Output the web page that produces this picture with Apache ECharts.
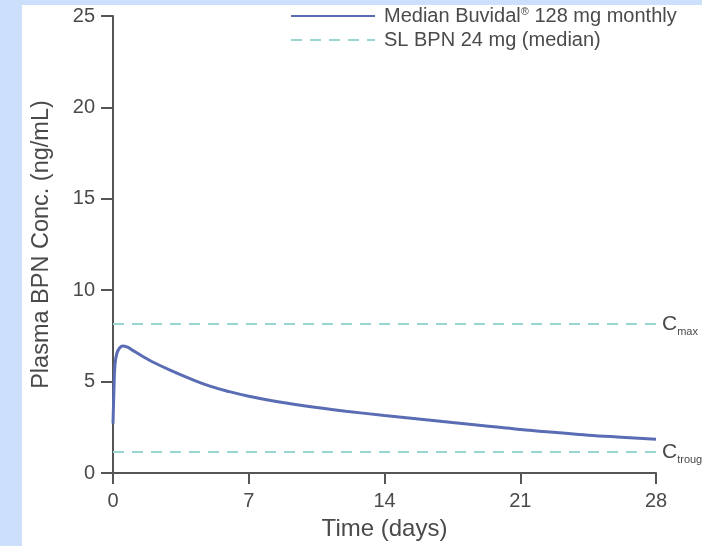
<!DOCTYPE html>
<html>
<head>
<meta charset="utf-8">
<script src="https://cdn.jsdelivr.net/npm/echarts@6/dist/echarts.min.js"></script>
<style>
  html, body { margin: 0; padding: 0; background: #cce0fc; }
  #chart { width: 702px; height: 546px; }
</style>
</head>
<body>
<div id="chart"></div>
<script>
// Time after dose (days) and median plasma buprenorphine concentration (ng/mL)
const timeDays = [0, 0.05, 0.1, 0.2, 0.35, 0.5, 0.75, 1, 1.5, 2, 3, 4, 5, 6, 7, 8.5, 10.5, 12, 14, 16, 17.5, 19, 21, 23, 24.5, 26, 28];
const buvidalConc = [2.7, 4.6, 5.9, 6.55, 6.85, 6.95, 6.88, 6.72, 6.4, 6.1, 5.6, 5.15, 4.75, 4.45, 4.2, 3.9, 3.58, 3.38, 3.15, 2.93, 2.76, 2.6, 2.38, 2.2, 2.07, 1.97, 1.85];

// Sublingual reference levels (ng/mL)
const slCmax = 8.15;
const slCtrough = 1.15;

// Axis ticks
const xTicks = [0, 7, 14, 21, 28];
const yTicks = [0, 5, 10, 15, 20, 25];

const seriesNames = ['Median Buvidal\u00AE 128 mg monthly', 'SL BPN 24 mg (median)'];

const BLUE = '#5a6db4';
const TEAL = '#9ad6d0';
const AXIS = '#555555';
const TEXT = '#4a4a4a';
const FONT = '"Liberation Sans", Arial, sans-serif';

const chart = echarts.init(document.getElementById('chart'), null, { renderer: 'canvas' });

const refLabel = (sub) => ({
  show: true,
  position: 'end',
  distance: 6,
  formatter: '{c|C}{s|' + sub + '}',
  rich: {
    c: { fontSize: 21, color: TEXT, fontFamily: FONT },
    s: { fontSize: 11, color: TEXT, fontFamily: FONT, padding: [16, 0, 0, 0] }
  }
});

chart.setOption({
  backgroundColor: '#cce0fc',
  animation: false,
  graphic: [{
    type: 'rect',
    z: -100,
    silent: true,
    shape: { x: 22, y: 5, width: 700, height: 560 },
    style: { fill: '#ffffff' }
  }],
  textStyle: { fontFamily: FONT },
  grid: { left: 113, right: 46, top: 16, bottom: 71, containLabel: false },
  legend: {
    orient: 'vertical',
    left: 285,
    top: 1,
    itemWidth: 84,
    itemHeight: 14,
    itemGap: 4,
    data: seriesNames,
    itemStyle: { opacity: 0 },
    formatter: name => name.replace('\u00AE', '{sup|\u00AE}'),
    textStyle: {
      fontSize: 20,
      color: TEXT,
      fontFamily: FONT,
      lineHeight: 20,
      padding: [0, 0, 0, 4],
      rich: {
        sup: { fontSize: 11, color: TEXT, fontFamily: FONT, padding: [0, 0, 8, 0] }
      }
    }
  },
  xAxis: {
    type: 'value',
    min: xTicks[0],
    max: xTicks[xTicks.length - 1],
    interval: 7,
    name: 'Time (days)',
    nameLocation: 'middle',
    nameGap: 44,
    nameTextStyle: { fontSize: 24, color: TEXT, fontFamily: FONT },
    axisLine: { show: true, lineStyle: { color: AXIS, width: 2 } },
    axisTick: { show: true, length: 11, lineStyle: { color: AXIS, width: 2 } },
    axisLabel: { fontSize: 20, color: TEXT, margin: 18, fontFamily: FONT,
      formatter: v => xTicks.includes(v) ? String(v) : '' },
    splitLine: { show: false }
  },
  yAxis: {
    type: 'value',
    min: yTicks[0],
    max: yTicks[yTicks.length - 1],
    interval: 5,
    name: 'Plasma BPN Conc. (ng/mL)',
    nameLocation: 'middle',
    nameGap: 59,
    nameTextStyle: { fontSize: 23.5, color: TEXT, fontFamily: FONT },
    axisLine: { show: true, lineStyle: { color: AXIS, width: 2 } },
    axisTick: { show: true, length: 12, lineStyle: { color: AXIS, width: 2 } },
    axisLabel: { fontSize: 20, color: TEXT, margin: 18, fontFamily: FONT,
      formatter: v => yTicks.includes(v) ? String(v) : '' },
    splitLine: { show: false }
  },
  series: [
    {
      name: seriesNames[0],
      type: 'line',
      data: timeDays.map((t, i) => [t, buvidalConc[i]]),
      smooth: 0.4,
      symbol: 'none',
      lineStyle: { color: BLUE, width: 3 },
      itemStyle: { color: BLUE },
      z: 3
    },
    {
      name: seriesNames[1],
      type: 'line',
      data: [],
      symbol: 'none',
      lineStyle: { color: TEAL, width: 2, type: [11, 8] },
      itemStyle: { color: TEAL },
      markLine: {
        silent: true,
        symbol: 'none',
        lineStyle: { color: TEAL, width: 2, type: [11, 8] },
        data: [
          [{ coord: [xTicks[0], slCmax], label: refLabel('max') }, { coord: [xTicks[xTicks.length - 1], slCmax] }],
          [{ coord: [xTicks[0], slCtrough], label: refLabel('trough') }, { coord: [xTicks[xTicks.length - 1], slCtrough] }]
        ]
      },
      z: 2
    }
  ]
});
</script>
</body>
</html>
